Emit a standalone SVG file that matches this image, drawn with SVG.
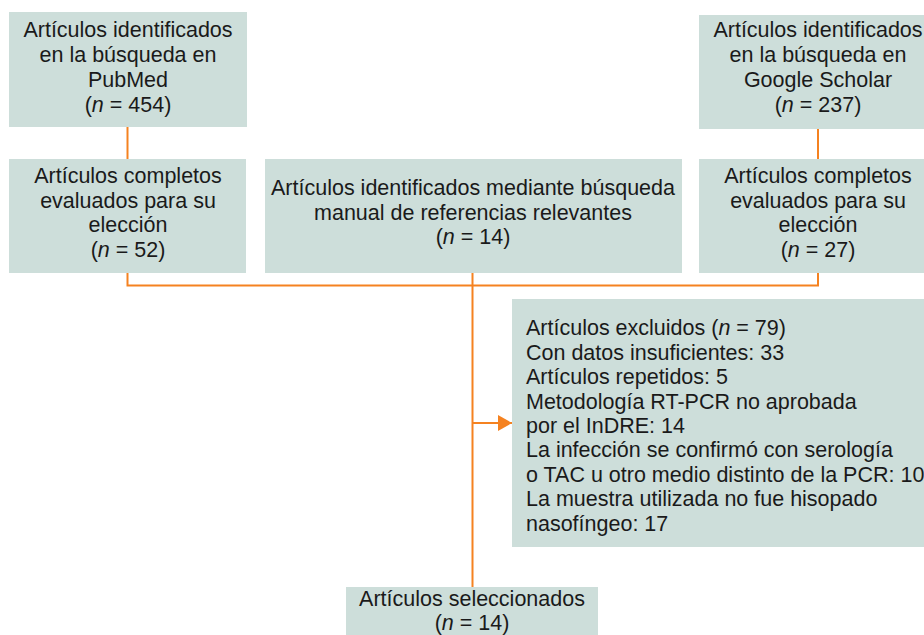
<svg xmlns="http://www.w3.org/2000/svg" width="924" height="635" viewBox="0 0 924 635">
<defs>
<style>
.box{fill:#cddeda;}
.t{font-family:"Liberation Sans",Arial,sans-serif;font-size:21.5px;fill:#1a1a1a;}
.c{text-anchor:middle;}
.con{stroke:#f58220;stroke-width:2;fill:none;}
</style>
<marker id="ah" markerWidth="14" markerHeight="16" refX="14" refY="8" orient="auto" markerUnits="userSpaceOnUse">
<path d="M0,0 L14,8 L0,16 Z" fill="#f58220"/>
</marker>
</defs>
<rect width="924" height="635" fill="#ffffff"/>
<g id="connectors">
<line class="con" x1="127.5" y1="127" x2="127.5" y2="159"/>
<line class="con" x1="818" y1="129" x2="818" y2="159"/>
<path class="con" d="M127.5,273 V285.5 H818 V273"/>
<line class="con" x1="472.5" y1="273" x2="472.5" y2="587"/>
<line class="con" x1="472.5" y1="423" x2="512" y2="423" marker-end="url(#ah)"/>
</g>
<g id="pubmed">
<rect class="box" x="9" y="12" width="238" height="115"/>
<text class="t c" x="128" y="37">Artículos identificados</text>
<text class="t c" x="128" y="62">en la búsqueda en</text>
<text class="t c" x="128" y="87">PubMed</text>
<text class="t c" x="128" y="112">(<tspan font-style="italic">n</tspan> = 454)</text>
</g>
<g id="scholar">
<rect class="box" x="699" y="15" width="238" height="114"/>
<text class="t c" x="818" y="37">Artículos identificados</text>
<text class="t c" x="818" y="62">en la búsqueda en</text>
<text class="t c" x="818" y="87">Google Scholar</text>
<text class="t c" x="818" y="112">(<tspan font-style="italic">n</tspan> = 237)</text>
</g>
<g id="completos-left">
<rect class="box" x="9" y="159" width="237" height="114"/>
<text class="t c" x="128" y="183">Artículos completos</text>
<text class="t c" x="128" y="208">evaluados para su</text>
<text class="t c" x="128" y="232">elección</text>
<text class="t c" x="128" y="257">(<tspan font-style="italic">n</tspan> = 52)</text>
</g>
<g id="manual">
<rect class="box" x="265" y="159" width="417" height="114"/>
<text class="t c" x="473" y="195">Artículos identificados mediante búsqueda</text>
<text class="t c" x="473" y="220">manual de referencias relevantes</text>
<text class="t c" x="473" y="244">(<tspan font-style="italic">n</tspan> = 14)</text>
</g>
<g id="completos-right">
<rect class="box" x="699" y="159" width="238" height="114"/>
<text class="t c" x="818" y="183">Artículos completos</text>
<text class="t c" x="818" y="208">evaluados para su</text>
<text class="t c" x="818" y="232">elección</text>
<text class="t c" x="818" y="257">(<tspan font-style="italic">n</tspan> = 27)</text>
</g>
<g id="excluidos">
<rect class="box" x="512" y="299" width="425" height="248"/>
<text class="t" x="526" y="335">Artículos excluidos (<tspan font-style="italic">n</tspan> = 79)</text>
<text class="t" x="526" y="360">Con datos insuficientes: 33</text>
<text class="t" x="526" y="384">Artículos repetidos: 5</text>
<text class="t" x="526" y="409">Metodología RT-PCR no aprobada</text>
<text class="t" x="526" y="433">por el InDRE: 14</text>
<text class="t" x="526" y="457">La infección se confirmó con serología</text>
<text class="t" x="526" y="482">o TAC u otro medio distinto de la PCR: 10</text>
<text class="t" x="526" y="506">La muestra utilizada no fue hisopado</text>
<text class="t" x="526" y="531">nasofíngeo: 17</text>
</g>
<g id="seleccionados">
<rect class="box" x="346" y="587" width="252" height="48"/>
<text class="t c" x="472" y="606">Artículos seleccionados</text>
<text class="t c" x="472" y="630">(<tspan font-style="italic">n</tspan> = 14)</text>
</g>
</svg>
